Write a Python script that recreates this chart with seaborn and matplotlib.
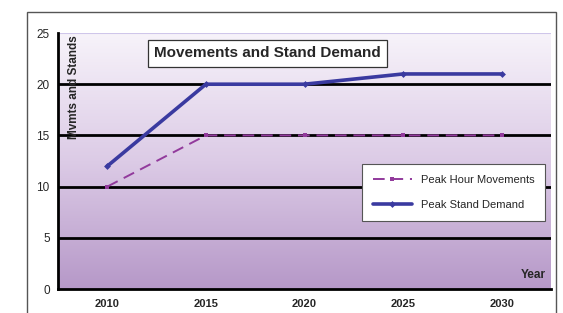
import numpy as np
import pandas as pd
import matplotlib
matplotlib.use("Agg")
import matplotlib.pyplot as plt
import matplotlib.patches as mpatches
from matplotlib.colors import LinearSegmentedColormap
import seaborn as sns

years = ["2010", "2015", "2020", "2025", "2030"]
peak_hour_movements = [10, 15, 15, 15, 15]
peak_stand_demand = [12, 20, 20, 21, 21]
y_ticks = [0, 5, 10, 15, 20, 25]

sns.set_style("white")
plt.rcParams["font.family"] = ["Liberation Sans", "DejaVu Sans"]

df = pd.DataFrame({
    "pos": list(range(len(years))) * 2,
    "value": peak_hour_movements + peak_stand_demand,
    "series": ["Peak Hour Movements"] * len(years) + ["Peak Stand Demand"] * len(years),
})

fig = plt.figure(figsize=(5.63, 3.13), dpi=100)
ax = fig.add_axes([58/563, 1-289/313, (551-58)/563, (289-33)/313])

# gradient background (light at top, purple at bottom)
cmap = LinearSegmentedColormap.from_list("bg", ["#f7f3fa", "#dccbe6", "#b698c8"])
grad = np.linspace(1, 0, 256).reshape(-1, 1)
ax.imshow(grad, cmap=cmap, aspect="auto", origin="lower",
          extent=(-0.5, 4.5, 0, 25), zorder=0)

for yv in [5, 10, 15, 20]:
    ax.axhline(yv, color="black", lw=2.0, zorder=1)
ax.axhline(25, color="#cfc6ea", lw=1.5, zorder=1)

mv = df[df.series == "Peak Hour Movements"]
sd = df[df.series == "Peak Stand Demand"]
sns.lineplot(data=mv, x="pos", y="value", ax=ax, color="#923a9c", lw=1.4,
             marker="s", markersize=3.5, markeredgewidth=0, zorder=3,
             label="Peak Hour Movements")
ax.lines[-1].set_dashes([6, 3.5])
sns.lineplot(data=sd, x="pos", y="value", ax=ax, color="#3a3aa0", lw=2.6,
             marker="D", markersize=3.5, markeredgewidth=0, zorder=4,
             label="Peak Stand Demand")

ax.set_xlim(-0.5, 4.5)
ax.set_ylim(0, 25)
ax.set_yticks(y_ticks)
ax.set_yticklabels([str(v) for v in y_ticks], fontsize=8.5)
ax.set_xticks(range(len(years)))
ax.set_xticklabels(years, fontsize=8, fontweight="bold")
ax.set_xticks(np.arange(-0.5, 5.0, 1.0), minor=True)
ax.tick_params(axis="x", which="major", length=0, pad=7)
ax.tick_params(axis="x", which="minor", length=5, width=2, direction="out", color="black")
ax.tick_params(axis="y", length=4, width=1.2, direction="out", color="black", pad=2)
ax.set_xlabel("")
ax.set_ylabel("")

for s in ["top", "right"]:
    ax.spines[s].set_visible(False)
for s in ["left", "bottom"]:
    ax.spines[s].set_color("black")
    ax.spines[s].set_linewidth(2)

ax.text(0.424, 0.92, "Movements and Stand Demand", transform=ax.transAxes,
        ha="center", va="center", fontsize=11, fontweight="bold", zorder=6,
        bbox=dict(boxstyle="square,pad=0.4", facecolor="white", edgecolor="#333333", lw=0.9))
ax.text(0.032, 0.99, "Mvmts and Stands", transform=ax.transAxes, rotation=90,
        ha="center", va="top", fontsize=8.5, fontweight="bold", zorder=6)
ax.text(0.963, 0.055, "Year", transform=ax.transAxes, ha="center", va="center",
        fontsize=8.5, fontweight="bold", zorder=6)

leg = ax.legend(loc="upper right", bbox_to_anchor=(1.0, 0.51), fontsize=8,
                frameon=True, fancybox=False, framealpha=1, edgecolor="#555555",
                borderpad=1.0, labelspacing=1.3, handlelength=3.5)
leg.get_frame().set_linewidth(0.8)
leg.set_zorder(7)

fig.patches.append(mpatches.Rectangle((27/563, -0.2), (556-27)/563, 1.2 - 12/313,
                                      transform=fig.transFigure, fill=False,
                                      edgecolor="#555555", lw=1.0))

fig.savefig("out.png", dpi=100)
